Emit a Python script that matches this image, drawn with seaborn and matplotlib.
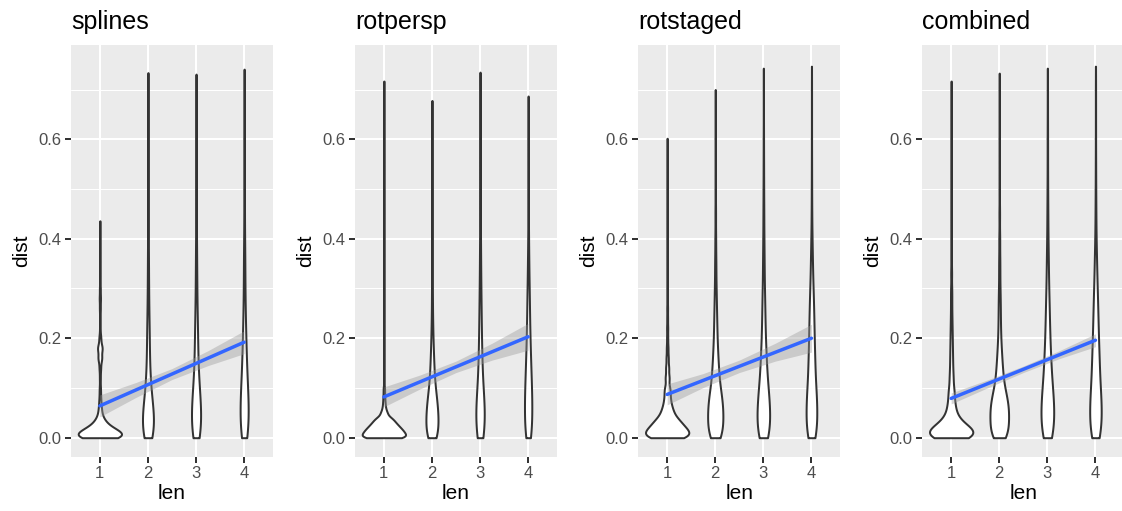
import numpy as np
import pandas as pd
import matplotlib
matplotlib.use("Agg")
import matplotlib.pyplot as plt
from matplotlib.ticker import FixedLocator
import seaborn as sns

# ---------------- data ----------------
methods = ["splines", "rotpersp", "rotstaged", "combined"]
lens = [1, 2, 3, 4]

# dist levels at which observations were tallied
dist_levels = [0.000, 0.005, 0.010, 0.015, 0.020, 0.025, 0.030, 0.035,
               0.040, 0.050, 0.060, 0.070, 0.080, 0.090, 0.100,
               0.120, 0.140, 0.160, 0.180, 0.200, 0.220, 0.240, 0.260, 0.280,
               0.300, 0.330, 0.360, 0.400,
               0.450, 0.500, 0.550, 0.600, 0.650, 0.700]

# observation counts per level, one list per len (1..4)
splines_counts = [
    [60, 43, 41, 33, 21, 15, 11, 8, 8, 7, 5, 4, 3, 2, 3, 3, 5, 12, 15, 6, 2, 2, 3, 4, 3, 2, 2, 1, 0, 0, 0, 0, 0, 0],
    [20, 9, 9, 9, 9, 9, 9, 9, 13, 17, 15, 13, 10, 9, 12, 13, 10, 9, 8, 8, 7, 6, 5, 4, 5, 5, 5, 5, 4, 3, 2, 2, 2, 1],
    [14, 6, 6, 6, 6, 6, 6, 6, 9, 12, 12, 11, 10, 8, 12, 13, 10, 9, 8, 8, 7, 6, 5, 4, 5, 5, 5, 5, 4, 3, 2, 2, 2, 1],
    [12, 5, 5, 5, 5, 5, 5, 5, 8, 10, 10, 10, 10, 9, 12, 14, 12, 11, 9, 8, 7, 6, 5, 4, 5, 5, 6, 5, 4, 4, 3, 2, 2, 2],
]
rotpersp_counts = [
    [60, 43, 43, 39, 34, 29, 25, 19, 21, 14, 7, 5, 4, 3, 3, 2, 2, 2, 2, 2, 2, 2, 2, 2, 1, 1, 1, 1, 1, 1, 1, 1, 1, 0],
    [20, 9, 9, 9, 9, 9, 9, 9, 14, 18, 18, 15, 13, 11, 15, 15, 12, 10, 8, 6, 5, 4, 3, 3, 3, 3, 3, 3, 2, 2, 2, 1, 1, 0],
    [16, 7, 7, 7, 7, 7, 7, 7, 10, 14, 14, 13, 12, 10, 12, 14, 12, 11, 10, 8, 8, 7, 6, 6, 6, 6, 6, 6, 5, 4, 3, 2, 2, 2],
    [16, 7, 7, 7, 7, 7, 7, 7, 10, 14, 14, 14, 14, 14, 19, 23, 21, 18, 16, 14, 12, 11, 10, 9, 10, 9, 8, 7, 5, 4, 3, 2, 2, 0],
]
rotstaged_counts = [
    [60, 44, 43, 40, 35, 31, 26, 22, 27, 26, 19, 14, 12, 10, 14, 14, 11, 8, 6, 4, 4, 3, 3, 2, 2, 2, 2, 2, 2, 2, 1, 0, 0, 0],
    [30, 15, 15, 15, 15, 15, 15, 15, 23, 33, 32, 29, 26, 23, 29, 32, 26, 22, 18, 15, 13, 12, 10, 8, 9, 8, 8, 7, 6, 4, 3, 2, 2, 0],
    [24, 10, 10, 10, 10, 10, 10, 10, 15, 20, 20, 19, 17, 16, 21, 24, 20, 18, 15, 12, 11, 10, 9, 8, 8, 8, 8, 8, 7, 5, 4, 3, 2, 2],
    [24, 10, 10, 10, 10, 10, 10, 10, 15, 20, 20, 20, 20, 17, 23, 28, 26, 24, 22, 20, 19, 18, 16, 14, 15, 13, 12, 10, 6, 4, 3, 2, 2, 2],
]
combined_counts = [
    [60, 44, 43, 40, 32, 24, 19, 14, 16, 17, 14, 11, 10, 9, 12, 13, 10, 9, 8, 7, 6, 5, 4, 4, 4, 4, 3, 3, 3, 2, 2, 1, 1, 1],
    [24, 12, 12, 12, 12, 12, 12, 12, 18, 27, 26, 24, 20, 17, 21, 22, 17, 14, 11, 8, 7, 6, 6, 5, 5, 5, 5, 5, 4, 3, 2, 2, 2, 1],
    [18, 8, 8, 8, 8, 8, 8, 8, 12, 16, 16, 16, 15, 13, 18, 21, 18, 16, 14, 12, 11, 10, 9, 8, 8, 8, 8, 7, 6, 4, 3, 3, 2, 2],
    [18, 8, 8, 8, 8, 8, 8, 8, 12, 16, 16, 16, 16, 14, 18, 23, 22, 20, 18, 16, 15, 14, 12, 11, 12, 11, 10, 8, 6, 4, 3, 2, 2, 2],
]

# largest observed dist per len
splines_max = [0.436, 0.734, 0.731, 0.741]
rotpersp_max = [0.717, 0.678, 0.735, 0.687]
rotstaged_max = [0.602, 0.700, 0.743, 0.747]
combined_max = [0.717, 0.733, 0.743, 0.747]

# linear fit (geom_smooth, method = lm): fitted values at len 1 and 4
fit_x = [1, 4]
splines_fit = [0.064, 0.192]
rotpersp_fit = [0.082, 0.203]
rotstaged_fit = [0.087, 0.200]
combined_fit = [0.079, 0.196]

# confidence band read at these len positions
band_x = [1, 1.75, 2.5, 3.25, 4]
splines_band_lo = [0.042, 0.081, 0.117, 0.145, 0.169]
splines_band_hi = [0.086, 0.111, 0.139, 0.175, 0.215]
rotpersp_band_lo = [0.062, 0.098, 0.131, 0.156, 0.176]
rotpersp_band_hi = [0.102, 0.126, 0.154, 0.190, 0.230]
rotstaged_band_lo = [0.066, 0.101, 0.131, 0.154, 0.172]
rotstaged_band_hi = [0.108, 0.129, 0.156, 0.190, 0.228]
combined_band_lo = [0.068, 0.100, 0.131, 0.159, 0.183]
combined_band_hi = [0.090, 0.116, 0.144, 0.175, 0.209]

y_ticks = [0.0, 0.2, 0.4, 0.6]
y_tick_labels = ["0.0", "0.2", "0.4", "0.6"]
y_minor = [0.1, 0.3, 0.5, 0.7]

panel_counts = [splines_counts, rotpersp_counts, rotstaged_counts, combined_counts]
panel_max = [splines_max, rotpersp_max, rotstaged_max, combined_max]
panel_fit = [splines_fit, rotpersp_fit, rotstaged_fit, combined_fit]
panel_lo = [splines_band_lo, rotpersp_band_lo, rotstaged_band_lo, combined_band_lo]
panel_hi = [splines_band_hi, rotpersp_band_hi, rotstaged_band_hi, combined_band_hi]


def nrd0(kde):
    """R's default bandwidth rule (bw.nrd0), as used by ggplot's violins."""
    x = kde.dataset[0]
    sd = x.std(ddof=1)
    q75, q25 = np.percentile(x, [75, 25])
    lo = min(sd, (q75 - q25) / 1.34) if q75 > q25 else sd
    bw = 0.9 * lo * len(x) ** (-0.2)
    return bw / sd


# ---------------- style ----------------
sns.set_style("white")
plt.rcParams["font.family"] = ["Liberation Sans", "DejaVu Sans"]

W, H = 1122, 511
fig = plt.figure(figsize=(W / 100, H / 100), dpi=100)
lefts = [71, 355, 638.3, 922.3]
pw, top, bottom = 202, 45, 457

for k, name in enumerate(methods):
    ax = fig.add_axes([lefts[k] / W, 1 - bottom / H, pw / W, (bottom - top) / H])
    ax.set_facecolor("#EBEBEB")

    rows = []
    for i, L in enumerate(lens):
        vals = list(np.repeat(dist_levels, panel_counts[k][i])) + [panel_max[k][i]]
        rows.append(pd.DataFrame({"len": L, "dist": vals}))
    df = pd.concat(rows, ignore_index=True)

    sns.violinplot(data=df, x="len", y="dist", native_scale=True,
                   density_norm="area", cut=0, inner=None, width=0.9,
                   color="white", saturation=1, linecolor="#333333",
                   linewidth=1.44, bw_method=nrd0, bw_adjust=0.9,
                   gridsize=400, ax=ax)

    ax.fill_between(band_x, panel_lo[k], panel_hi[k], color="#999999",
                    alpha=0.4, linewidth=0, zorder=3)
    sns.lineplot(x=fit_x, y=panel_fit[k], ax=ax, color="#3366FF",
                 linewidth=2.5, zorder=4)

    ax.set_xlim(0.4, 4.6)
    ax.set_ylim(-0.0388, 0.7896)
    ax.set_xticks(lens)
    ax.set_xticklabels([str(v) for v in lens])
    ax.set_yticks(y_ticks)
    ax.set_yticklabels(y_tick_labels)
    ax.yaxis.set_minor_locator(FixedLocator(y_minor))

    ax.set_axisbelow(True)
    ax.grid(True, which="major", color="white", linewidth=1.44)
    ax.grid(True, which="minor", axis="y", color="white", linewidth=0.72)
    for s in ax.spines.values():
        s.set_visible(False)
    ax.tick_params(axis="both", which="major", length=4.3, width=1.44,
                   color="#333333", labelcolor="#4D4D4D", labelsize=12,
                   pad=2.5, direction="out", left=True, bottom=True)
    ax.tick_params(axis="y", which="minor", length=0)

    ax.set_xlabel("len", fontsize=15, color="black", va="top")
    ax.set_ylabel("dist", fontsize=15, color="black")
    ax.xaxis.set_label_coords(0.5, -0.0655)
    ax.yaxis.set_label_coords(-0.198, 0.5)

    ax.text(0, 1.038, name, transform=ax.transAxes, ha="left",
            va="baseline", fontsize=18, color="black")

fig.savefig("out.png", dpi=100)
